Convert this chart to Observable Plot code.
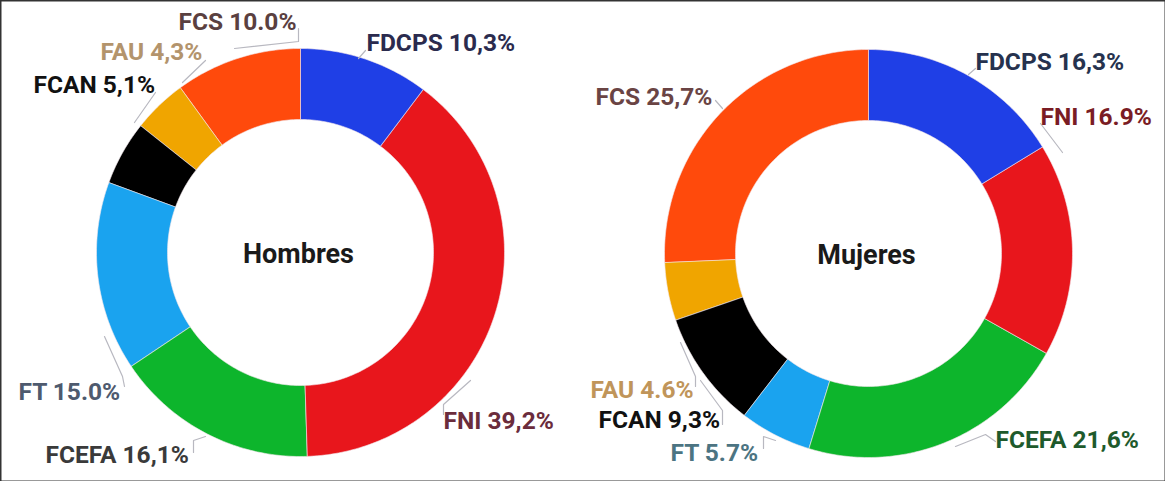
<!DOCTYPE html>
<html>
<head>
<meta charset="utf-8">
<script src="https://cdn.jsdelivr.net/npm/d3@7"></script>
<script src="https://cdn.jsdelivr.net/npm/@observablehq/plot@0.6"></script>
<style>
  html, body { margin: 0; padding: 0; background: #fff; }
  #chart { position: relative; width: 1165px; height: 481px; }
</style>
</head>
<body>
<div id="chart"></div>
<script>
// ---- Data ----
const faculties = ["FDCPS", "FNI", "FCEFA", "FT", "FCAN", "FAU", "FCS"];
const hombres = [10.3, 39.2, 16.1, 15.0, 5.1, 4.3, 10.0];
const mujeres = [16.3, 16.9, 21.6, 5.7, 9.3, 4.6, 25.7];
const hombresLabels = ["FDCPS 10,3%", "FNI 39,2%", "FCEFA 16,1%", "FT 15.0%", "FCAN 5,1%", "FAU 4,3%", "FCS 10.0%"];
const mujeresLabels = ["FDCPS 16,3%", "FNI 16.9%", "FCEFA 21,6%", "FT 5.7%", "FCAN 9,3%", "FAU 4.6%", "FCS 25,7%"];
const panelTitles = ["Hombres", "Mujeres"];

// ---- Styles / layout ----
const sliceColors = ["#1f3fe6", "#e8161c", "#0db52c", "#1aa3ef", "#000000", "#f0a500", "#ff4a0c"];
const W = 1165, H = 481;
const R_OUT = 204, R_IN = 133;
const panels = [
  {values: hombres, labels: hombresLabels, title: panelTitles[0], cx: 300, cy: 252,
   labelColors: ["#2b2b4e", "#6b2c3c", "#3a3a3a", "#4e5a6e", "#111111", "#b3946c", "#5a4040"],
   labelPos: [[366, 43], [443, 421], [45, 455], [18, 392], [33, 85], [100, 52], [178, 22]],
   leaders: [
     [[365, 50], [358, 58]],
     [[443, 414], [443, 404], [470, 380]],
     [[193, 452], [193, 440], [205, 436]],
     [[124, 386], [122, 376], [104, 336]],
     [[155, 92], [134, 122]],
     [[205, 60], [182, 82]],
     [[298, 28], [298, 41], [234, 48]]
   ]},
  {values: mujeres, labels: mujeresLabels, title: panelTitles[1], cx: 868, cy: 253,
   labelColors: ["#26324e", "#7a1c24", "#1e5a2c", "#4c7482", "#111111", "#c0955a", "#6a4444"],
   labelPos: [[975, 62], [1040, 117], [995, 440], [670, 453], [598, 420], [590, 390], [595, 97]],
   leaders: [
     [[975, 68], [968, 74]],
     [[1040, 123], [1062, 152]],
     [[995, 441], [985, 434], [955, 446]],
     [[763, 448], [763, 436], [775, 440]],
     [[722, 424], [722, 410], [700, 380]],
     [[695, 386], [695, 376], [680, 342]],
     [[715, 100], [722, 108]]
   ]}
];

// ---- Build slice polygons from the values ----
const slicePts = [];
const labelRows = [];
const leaderRows = [];
const titleRows = [];
panels.forEach((p, pi) => {
  const total = d3.sum(p.values);
  let acc = 0;
  p.values.forEach((v, i) => {
    const a0 = acc / total * 2 * Math.PI;
    acc += v;
    const a1 = acc / total * 2 * Math.PI;
    const n = Math.max(4, Math.ceil((a1 - a0) / (Math.PI / 180)));
    const key = pi + "-" + i;
    for (let k = 0; k <= n; k++) {
      const a = a0 + (a1 - a0) * k / n;
      slicePts.push({key, color: sliceColors[i], x: p.cx + R_OUT * Math.sin(a), y: p.cy - R_OUT * Math.cos(a)});
    }
    for (let k = n; k >= 0; k--) {
      const a = a0 + (a1 - a0) * k / n;
      slicePts.push({key, color: sliceColors[i], x: p.cx + R_IN * Math.sin(a), y: p.cy - R_IN * Math.cos(a)});
    }
    labelRows.push({text: p.labels[i], x: p.labelPos[i][0], y: p.labelPos[i][1], color: p.labelColors[i], fac: faculties[i]});
    p.leaders[i].forEach(([x, y]) => leaderRows.push({key: key, x, y}));
  });
  titleRows.push({text: p.title, x: p.cx - 2, y: p.cy + 2});
});

const chart = Plot.plot({
  width: W,
  height: H,
  margin: 0,
  x: {domain: [0, W], range: [0, W], axis: null},
  y: {domain: [0, H], range: [0, H], axis: null},
  color: {type: "identity"},
  style: {fontFamily: "Roboto, sans-serif", background: "#fff"},
  marks: [
    Plot.line(slicePts, {x: "x", y: "y", z: "key", fill: "color", stroke: "#f4e8ec", strokeWidth: 0.6, curve: "linear-closed"}),
    Plot.line(leaderRows, {x: "x", y: "y", z: "key", stroke: "#b8b8c0", strokeWidth: 1.2}),
    Plot.text(labelRows, {x: "x", y: "y", text: "text", fill: "color", textAnchor: "start", lineAnchor: "middle",
      fontSize: 24.5, fontWeight: 700, fontFamily: "Roboto"}),
    Plot.text(titleRows, {x: "x", y: "y", text: "text", fill: "#1a1a1a", textAnchor: "middle", lineAnchor: "middle",
      fontSize: 27, fontWeight: 700, fontFamily: "Roboto"}),
    Plot.frame({x1: 3, x2: 1162, y1: 1, y2: 477, stroke: "#333", strokeWidth: 2, fill: "none"})
  ]
});
document.getElementById("chart").appendChild(chart);
</script>
</body>
</html>
